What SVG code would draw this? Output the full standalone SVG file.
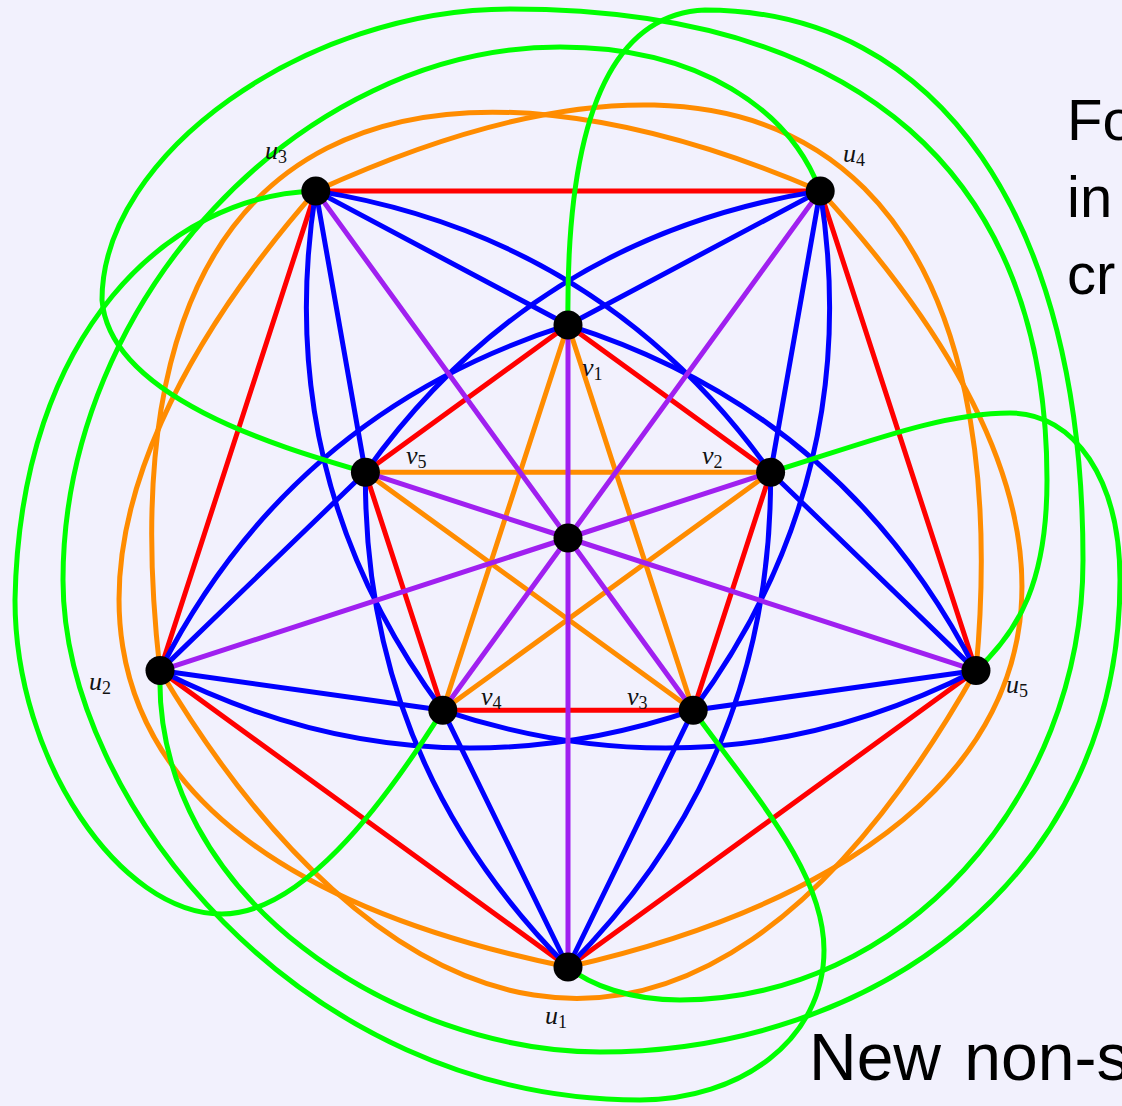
<svg xmlns="http://www.w3.org/2000/svg" width="1122" height="1106" viewBox="0 0 1122 1106">
<style>
.e{fill:none;stroke-width:5;stroke-linecap:round;stroke-linejoin:round}
.r{stroke:#ff0000}.o{stroke:#ff8c00}.b{stroke:#0000ff}.p{stroke:#a020f0}.g{stroke:#00ff00}
.n{fill:#000}
.lab{font-family:"Liberation Serif","DejaVu Serif",serif;font-style:italic;font-size:26px;fill:#111}
.sub{font-style:normal;font-size:18px}
.big{font-family:"Liberation Sans","DejaVu Sans",sans-serif;fill:#000}
</style>
<rect width="1122" height="1106" fill="#f2f1fd"/>
<g id="connectors">
  <g id="red">
    <path class="e r" d="M568,967 L160,670.6 L315.8,190.9 L820.2,190.9 L976,670.6 Z"/>
    <path class="e r" d="M568,325 L770.6,472.2 L693.2,710.3 L442.8,710.3 L365.4,472.2 Z"/>
  </g>
  <g id="blue">
    <path class="e b" d="M315.8,190.9 L568,325 M315.8,190.9 L365.4,472.2 M820.2,190.9 L568,325 M820.2,190.9 L770.6,472.2 M976,670.6 L770.6,472.2 M976,670.6 L693.2,710.3 M568,967 L693.2,710.3 M568,967 L442.8,710.3 M160,670.6 L442.8,710.3 M160,670.6 L365.4,472.2"/>
    <path class="e b" d="M315.8,190.9 Q602.1,236.3 770.6,472.2"/>
    <path class="e b" d="M315.8,190.9 Q602.1,236.3 770.6,472.2" transform="rotate(72 568 538)"/>
    <path class="e b" d="M315.8,190.9 Q602.1,236.3 770.6,472.2" transform="rotate(144 568 538)"/>
    <path class="e b" d="M315.8,190.9 Q602.1,236.3 770.6,472.2" transform="rotate(216 568 538)"/>
    <path class="e b" d="M315.8,190.9 Q602.1,236.3 770.6,472.2" transform="rotate(288 568 538)"/>
    <path class="e b" d="M315.8,190.9 Q270.5,477.2 442.8,710.3"/>
    <path class="e b" d="M315.8,190.9 Q270.5,477.2 442.8,710.3" transform="rotate(72 568 538)"/>
    <path class="e b" d="M315.8,190.9 Q270.5,477.2 442.8,710.3" transform="rotate(144 568 538)"/>
    <path class="e b" d="M315.8,190.9 Q270.5,477.2 442.8,710.3" transform="rotate(216 568 538)"/>
    <path class="e b" d="M315.8,190.9 Q270.5,477.2 442.8,710.3" transform="rotate(288 568 538)"/>
  </g>
  <g id="orange">
    <path class="e o" d="M568,325 L693.2,710.3 M568,325 L442.8,710.3 M770.6,472.2 L442.8,710.3 M770.6,472.2 L365.4,472.2 M693.2,710.3 L365.4,472.2"/>
    <path class="e o" d="M820.2,190.9 C1225,633 958,879 568,967"/>
    <path class="e o" d="M820.2,190.9 C1225,633 958,879 568,967" transform="rotate(72 568 538)"/>
    <path class="e o" d="M820.2,190.9 C1225,633 958,879 568,967" transform="rotate(144 568 538)"/>
    <path class="e o" d="M820.2,190.9 C1225,633 958,879 568,967" transform="rotate(216 568 538)"/>
    <path class="e o" d="M820.2,190.9 C1225,633 958,879 568,967" transform="rotate(288 568 538)"/>
  </g>
  <g id="purple">
    <path class="e p" d="M568,538 L568,967 M568,538 L160,670.6 M568,538 L315.8,190.9 M568,538 L820.2,190.9 M568,538 L976,670.6 M568,538 L568,325 M568,538 L770.6,472.2 M568,538 L693.2,710.3 M568,538 L442.8,710.3 M568,538 L365.4,472.2"/>
  </g>
  <g id="green">
    <path class="e g" d="M568,325 C566,170 590,15 705,10 C939,10 1083,219 1083,560 C1083,800 900,1000 680,1000 C630,1000 590,985 568,967"/>
    <path class="e g" d="M770.6,472.2 C860,445 940,413 1010,413 C1075,413 1120,480 1120,580 C1120,880 870,1052 600,1052 C400,1052 153,900 160,670.6"/>
    <path class="e g" d="M365.4,472.2 C290,450 110,400 102,300 C102,154 306,9 510,9 C859,9 1047,174 1047,480 C1047,580 1020,630 976,670.6"/>
    <path class="e g" d="M315.8,190.9 C170,195 20,330 15,600 C15,760 120,914 222,914 C300,914 380,810 442.8,710.3"/>
    <path class="e g" d="M820.2,190.9 C790,110 700,47 560,47 C300,47 63,300 63,580 C63,800 300,1100 640,1100 C740,1100 824,1040 824,950 C824,870 750,790 693.2,710.3"/>
  </g>
</g>
<g id="center"><circle class="n" cx="568" cy="538" r="14.5"/></g>
<g id="u1"><circle class="n" cx="568" cy="967" r="14.5"/><text class="lab" x="545" y="1024">u<tspan class="sub" dy="4">1</tspan></text></g>
<g id="u2"><circle class="n" cx="160" cy="670.6" r="14.5"/><text class="lab" x="89" y="690">u<tspan class="sub" dy="4">2</tspan></text></g>
<g id="u3"><circle class="n" cx="315.8" cy="190.9" r="14.5"/><text class="lab" x="265" y="159">u<tspan class="sub" dy="4">3</tspan></text></g>
<g id="u4"><circle class="n" cx="820.2" cy="190.9" r="14.5"/><text class="lab" x="843" y="162">u<tspan class="sub" dy="4">4</tspan></text></g>
<g id="u5"><circle class="n" cx="976" cy="670.6" r="14.5"/><text class="lab" x="1006" y="693">u<tspan class="sub" dy="4">5</tspan></text></g>
<g id="v1"><circle class="n" cx="568" cy="325" r="14.5"/><text class="lab" x="582" y="376">v<tspan class="sub" dy="4">1</tspan></text></g>
<g id="v2"><circle class="n" cx="770.6" cy="472.2" r="14.5"/><text class="lab" x="702" y="464">v<tspan class="sub" dy="4">2</tspan></text></g>
<g id="v3"><circle class="n" cx="693.2" cy="710.3" r="14.5"/><text class="lab" x="627" y="705">v<tspan class="sub" dy="4">3</tspan></text></g>
<g id="v4"><circle class="n" cx="442.8" cy="710.3" r="14.5"/><text class="lab" x="481" y="705">v<tspan class="sub" dy="4">4</tspan></text></g>
<g id="v5"><circle class="n" cx="365.4" cy="472.2" r="14.5"/><text class="lab" x="406" y="464">v<tspan class="sub" dy="4">5</tspan></text></g>
<g id="caption">
  <text class="big" font-size="58" x="1067" y="140">Fo</text>
  <text class="big" font-size="58" x="1067" y="217">in</text>
  <text class="big" font-size="58" x="1067" y="294">cr</text>
  <text class="big" font-size="66" x="809" y="1080" word-spacing="5">New non-s</text>
</g>
</svg>
